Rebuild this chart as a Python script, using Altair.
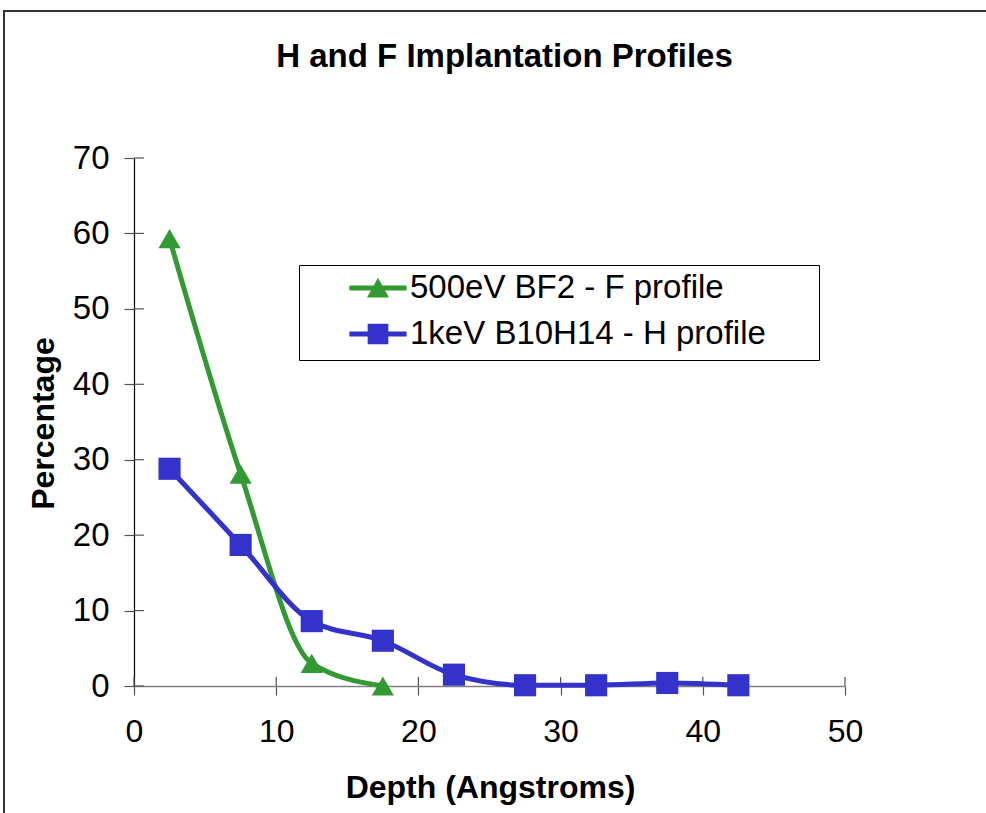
import altair as alt
import pandas as pd

# ---- data ----
depth_f = [2.5, 7.5, 12.5, 17.5]
pct_f = [59.3, 28.1, 3.0, 0.0]
depth_h = [2.5, 7.5, 12.5, 17.5, 22.5, 27.5, 32.5, 37.5, 42.5]
pct_h = [28.8, 18.7, 8.6, 6.0, 1.5, 0.1, 0.1, 0.4, 0.1]
series = ["500eV BF2 - F profile", "1keV B10H14 - H profile"]
colors = ["#339933", "#3333CC"]
x_ticks = [0, 10, 20, 30, 40, 50]
y_ticks = [0, 10, 20, 30, 40, 50, 60, 70]

W, H = 711, 528
FONT = "Liberation Sans"

df = pd.concat([
    pd.DataFrame({"depth": depth_f, "pct": pct_f, "series": series[0]}),
    pd.DataFrame({"depth": depth_h, "pct": pct_h, "series": series[1]}),
])

xs = alt.Scale(domain=[0, 50], nice=False)
ys = alt.Scale(domain=[0, 70], nice=False)
cs = alt.Scale(domain=series, range=colors)

x_enc = alt.X("depth:Q", scale=xs, axis=alt.Axis(
    values=x_ticks, title="Depth (Angstroms)", grid=False, labelFlush=False,
    domainColor="#808080", domainWidth=1.5, tickColor="#555555", tickWidth=1.2,
    tickSize=9, labelFontSize=32, labelFont=FONT, labelColor="black",
    labelPadding=21, titleFont=FONT, titleFontSize=32, titleFontWeight="bold",
    titleColor="black", titleX=356, titleY=111, titleBaseline="alphabetic",
    titleAnchor="middle"))
y_enc = alt.Y("pct:Q", scale=ys, axis=alt.Axis(
    values=y_ticks, title="Percentage", grid=False, labelFlush=False,
    domainColor="black", domainWidth=1.2, tickColor="#555555", tickWidth=1.2,
    tickSize=10, labelFontSize=33, labelFont=FONT, labelColor="black",
    labelPadding=15, titleFont=FONT, titleFontSize=32, titleFontWeight="bold",
    titleColor="black", titleAngle=-90, titleX=-81, titleY=265,
    titleBaseline="alphabetic", titleAlign="center"))

lines = alt.Chart(df).mark_line(interpolate="monotone", strokeWidth=5).encode(
    x=x_enc, y=y_enc,
    color=alt.Color("series:N", scale=cs, legend=None),
    detail="series:N",
)

points = alt.Chart(df).mark_point(filled=True, opacity=1, strokeWidth=0, size=490).encode(
    x="depth:Q", y="pct:Q",
    color=alt.Color("series:N", scale=cs, legend=None),
    shape=alt.Shape("series:N", scale=alt.Scale(domain=series, range=["triangle-up", "square"]), legend=None),
)

# legend symbols: line with marker, as custom paths (the zero-area subpaths
# only widen the legend frame to the right / bottom like the original box)
tri_path = ("M-1.3,-0.11 L1.3,-0.11 L1.3,0.11 L-1.3,0.11 Z "
            "M0,-0.47 L0.5,0.43 L-0.5,0.43 Z M20,0 L20,0 Z")
sq_path = ("M-1.3,-0.11 L1.3,-0.11 L1.3,0.11 L-1.3,0.11 Z "
           "M-0.47,-0.47 L0.47,-0.47 L0.47,0.47 L-0.47,0.47 Z M20,1.1 L20,1.1 Z")
leg = alt.Legend(
    title=None, orient="none", legendX=165, legendY=107,
    fillColor="white", strokeColor="black",
    padding=1, rowPadding=7, symbolSize=1936, symbolStrokeWidth=0,
    symbolOffset=56, labelOffset=10, labelFont=FONT, labelFontSize=33,
    labelColor="black", labelLimit=1000)
legend_layer = alt.Chart(df).transform_filter("false").mark_point(filled=True, opacity=1).encode(
    x="depth:Q", y="pct:Q",
    color=alt.Color("series:N", scale=alt.Scale(domain=series, range=colors), legend=leg),
    shape=alt.Shape("series:N", scale=alt.Scale(domain=series, range=[tri_path, sq_path]), legend=leg),
)

# inner halves of the crossing tick marks
ytick_df = pd.DataFrame({"v": y_ticks})
xtick_df = pd.DataFrame({"v": x_ticks})
ytick_in = alt.Chart(ytick_df).mark_rule(color="#555555", strokeWidth=1.2).encode(
    y=alt.Y("v:Q", scale=ys), x=alt.value(0), x2=alt.value(10))
xtick_in = alt.Chart(xtick_df).mark_rule(color="#555555", strokeWidth=1.2).encode(
    x=alt.X("v:Q", scale=xs), y=alt.value(H - 9), y2=alt.value(H))

# outer frame of the chart
frame = alt.Chart(ytick_df).mark_rect(fill=None, stroke="#333333", strokeWidth=2).encode(
    x=alt.value(-130), x2=alt.value(1000), y=alt.value(-147), y2=alt.value(720))

chart = alt.layer(frame, ytick_in, xtick_in, lines, points, legend_layer).resolve_scale(
    shape="independent", color="independent"
).properties(
    width=W, height=H,
    background="white",
    autosize=alt.AutoSizeParams(type="none"),
    padding={"left": 134, "top": 158, "right": 141, "bottom": 127},
    title=alt.TitleParams("H and F Implantation Profiles", font=FONT, fontSize=33,
                          fontWeight="bold", color="black", anchor="middle",
                          frame="group", baseline="alphabetic", offset=-90, dx=15),
).configure_view(stroke=None, strokeWidth=0)

chart.save("out.html", embed_options={"renderer": "svg", "actions": False})
